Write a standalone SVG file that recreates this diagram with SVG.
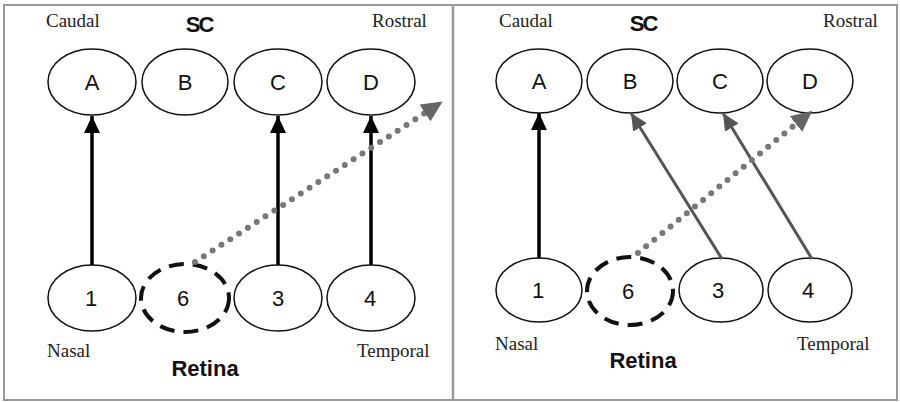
<svg xmlns="http://www.w3.org/2000/svg" width="900" height="402" viewBox="0 0 900 402">
<style>
.serif{font-family:"Liberation Serif","Times New Roman",serif;font-size:19px;fill:#222}
.bold{font-family:"Liberation Sans",Arial,sans-serif;font-size:22px;font-weight:bold;fill:#111}
.lab{font-family:"Liberation Sans",Arial,sans-serif;font-size:22px;fill:#111;text-anchor:middle}
.node{fill:#fff;stroke:#111;stroke-width:1.5}
.dash{fill:#fff;stroke:#111;stroke-width:4;stroke-dasharray:15 9}
.blk{stroke:#000;stroke-width:3.5;fill:none}
.gry{stroke:#555;stroke-width:3;fill:none}
.dot{stroke:#777;stroke-width:6;stroke-linecap:round;stroke-dasharray:0 10.5;fill:none}
</style>
<defs>
<marker id="ab" markerUnits="userSpaceOnUse" markerWidth="18" markerHeight="16" refX="17" refY="8" orient="auto"><path d="M0,0 L17,8 L0,16 z" fill="#000"/></marker>
<marker id="ag" markerUnits="userSpaceOnUse" markerWidth="18" markerHeight="16" refX="17" refY="8" orient="auto"><path d="M0,0 L17,8 L0,16 z" fill="#555"/></marker>
<marker id="ad" markerUnits="userSpaceOnUse" markerWidth="22" markerHeight="20" refX="0" refY="10" orient="auto"><path d="M0,0 L21,10 L0,20 z" fill="#666"/></marker>
</defs>
<rect x="4" y="5" width="893" height="395" fill="#fff" stroke="#999" stroke-width="2"/>
<line x1="453" y1="5" x2="453" y2="400" stroke="#999" stroke-width="2.5"/>

<g id="left-panel-labels">
<text class="serif" x="46" y="27">Caudal</text>
<text class="bold" x="199" y="32" text-anchor="middle" letter-spacing="-2">SC</text>
<text class="serif" x="372" y="27">Rostral</text>
<text class="serif" x="47" y="357">Nasal</text>
<text class="serif" x="357" y="357">Temporal</text>
<text class="bold" x="205" y="376" text-anchor="middle">Retina</text>
</g>
<g id="L-A"><ellipse class="node" cx="92" cy="82" rx="44" ry="33"/><text class="lab" x="92" y="90">A</text></g>
<g id="L-B"><ellipse class="node" cx="185" cy="82" rx="43" ry="33"/><text class="lab" x="185" y="90">B</text></g>
<g id="L-C"><ellipse class="node" cx="278" cy="82" rx="44" ry="33"/><text class="lab" x="278" y="90">C</text></g>
<g id="L-D"><ellipse class="node" cx="371" cy="82" rx="44" ry="33"/><text class="lab" x="371" y="90">D</text></g>
<g id="L-1"><ellipse class="node" cx="92" cy="298" rx="44" ry="33"/><text class="lab" x="91" y="306">1</text></g>
<g id="L-6"><ellipse class="dash" cx="185" cy="298" rx="44" ry="34"/><text class="lab" x="183" y="306">6</text></g>
<g id="L-3"><ellipse class="node" cx="278" cy="298" rx="44" ry="33"/><text class="lab" x="278" y="306">3</text></g>
<g id="L-4"><ellipse class="node" cx="371" cy="298" rx="44" ry="33"/><text class="lab" x="370" y="306">4</text></g>

<g id="right-panel-labels">
<text class="serif" x="499" y="27">Caudal</text>
<text class="bold" x="643" y="31" text-anchor="middle" letter-spacing="-2">SC</text>
<text class="serif" x="823" y="27">Rostral</text>
<text class="serif" x="495" y="350">Nasal</text>
<text class="serif" x="797" y="350">Temporal</text>
<text class="bold" x="643" y="368" text-anchor="middle">Retina</text>
</g>
<g id="R-A"><ellipse class="node" cx="539" cy="81" rx="43" ry="32"/><text class="lab" x="539" y="89">A</text></g>
<g id="R-B"><ellipse class="node" cx="630" cy="81" rx="43" ry="32"/><text class="lab" x="630" y="89">B</text></g>
<g id="R-C"><ellipse class="node" cx="720" cy="81" rx="43" ry="32"/><text class="lab" x="720" y="89">C</text></g>
<g id="R-D"><ellipse class="node" cx="810" cy="81" rx="43" ry="32"/><text class="lab" x="810" y="89">D</text></g>
<g id="R-1"><ellipse class="node" cx="539" cy="290" rx="43" ry="32"/><text class="lab" x="538" y="298">1</text></g>
<g id="R-6"><ellipse class="dash" cx="630" cy="291" rx="43" ry="34"/><text class="lab" x="628" y="299">6</text></g>
<g id="R-3"><ellipse class="node" cx="721" cy="290" rx="42" ry="32"/><text class="lab" x="718" y="298">3</text></g>
<g id="R-4"><ellipse class="node" cx="810" cy="290" rx="42" ry="32"/><text class="lab" x="808" y="298">4</text></g>

<g id="connectors">
<line class="blk" x1="92" y1="265" x2="92" y2="116" marker-end="url(#ab)"/>
<line class="blk" x1="278" y1="265" x2="278" y2="116" marker-end="url(#ab)"/>
<line class="blk" x1="371" y1="265" x2="371" y2="116" marker-end="url(#ab)"/>
<line class="dot" x1="195" y1="262" x2="425" y2="113" marker-end="url(#ad)"/>
<line class="blk" x1="539" y1="258" x2="539" y2="113" marker-end="url(#ab)"/>
<line class="gry" x1="722" y1="259" x2="631" y2="113" marker-end="url(#ag)"/>
<line class="gry" x1="812" y1="259" x2="723" y2="113" marker-end="url(#ag)"/>
<line class="dot" x1="638" y1="253" x2="796" y2="124" marker-end="url(#ad)"/>
</g>
</svg>
